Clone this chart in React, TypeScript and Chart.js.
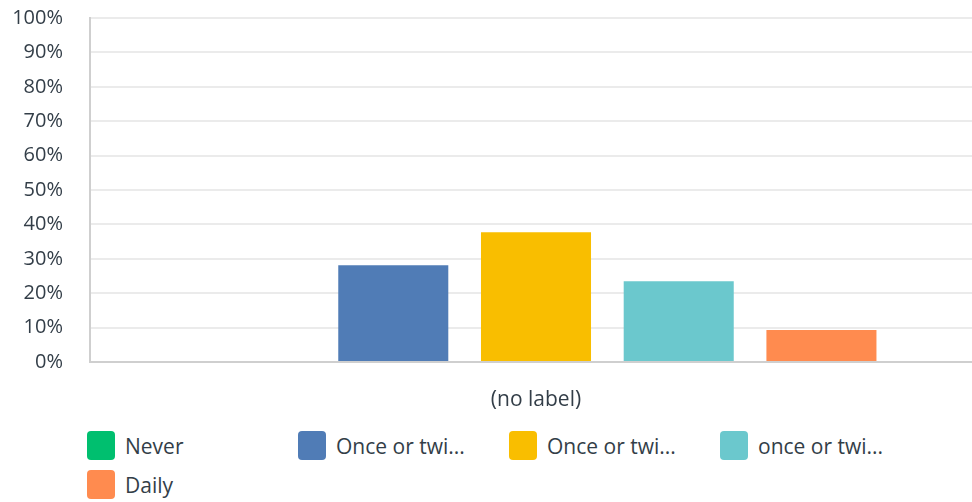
import React, { useEffect, useRef } from "react";
import { Chart, registerables } from "chart.js";

Chart.register(...registerables);

const categories = ["(no label)"];
const seriesNames = ["Never", "Once or twi...", "Once or twi...", "once or twi...", "Daily"];
const seriesValues = [[0], [28.1], [37.7], [23.5], [9.3]];
const seriesColors = ["#00bf6f", "#507cb6", "#f9be00", "#6bc8cd", "#ff8b4f"];
const yTicks = [0, 10, 20, 30, 40, 50, 60, 70, 80, 90, 100];

const FONT = "'Open Sans', Roboto, sans-serif";
const TEXT = "#333e48";

export default function App() {
  const ref = useRef<HTMLCanvasElement | null>(null);

  useEffect(() => {
    if (!ref.current) return;
    const chart = new Chart(ref.current, {
      type: "bar",
      data: {
        labels: categories,
        datasets: seriesNames.map((name, i) => ({
          label: name,
          data: seriesValues[i],
          backgroundColor: seriesColors[i],
          borderWidth: 0,
          barPercentage: 0.771,
          categoryPercentage: 0.8,
        })),
      },
      options: {
        animation: false,
        responsive: false,
        maintainAspectRatio: false,
        layout: { padding: { top: -9, right: 0, bottom: 0, left: 0 } },
        plugins: { legend: { display: false }, tooltip: { enabled: false } },
        scales: {
          x: {
            grid: { display: false, drawTicks: false },
            border: { display: true, color: "#cfcfcf", width: 2 },
            ticks: { color: TEXT, font: { family: FONT, size: 21 }, padding: 25 },
            afterFit: (s: any) => {
              s.height = 58;
            },
          },
          y: {
            min: 0,
            max: 100,
            afterBuildTicks: (s: any) => {
              s.ticks = yTicks.map((v) => ({ value: v }));
            },
            grid: { color: "#ebebeb", lineWidth: 2, drawTicks: false },
            border: { display: true, color: "#cfcfcf", width: 2 },
            ticks: {
              color: TEXT,
              font: { family: FONT, size: 20 },
              padding: 27,
              callback: (v: any) => v + "%",
            },
            afterFit: (s: any) => {
              s.width = 90;
            },
          },
        },
      },
    });
    return () => chart.destroy();
  }, []);

  const legendPos = [
    { left: 87, top: 431 },
    { left: 298, top: 431 },
    { left: 509, top: 431 },
    { left: 720, top: 431 },
    { left: 87, top: 470 },
  ];

  return (
    <div style={{ position: "fixed", left: 0, top: 0, width: 972, height: 502, overflow: "hidden", background: "#fff" }}>
      <canvas ref={ref} width={982} height={441} style={{ position: "absolute", left: 0, top: -21, width: 982, height: 441 }} />
      {seriesNames.map((name, i) => (
        <div
          key={i}
          style={{
            position: "absolute",
            left: legendPos[i].left,
            top: legendPos[i].top,
            display: "flex",
            alignItems: "center",
            height: 29,
            fontFamily: FONT,
            fontSize: 21,
            color: TEXT,
            whiteSpace: "nowrap",
          }}
        >
          <span
            style={{
              display: "inline-block",
              width: 28,
              height: 29,
              borderRadius: 4,
              background: seriesColors[i],
              marginRight: 10,
            }}
          />
          <span>{name}</span>
        </div>
      ))}
    </div>
  );
}
